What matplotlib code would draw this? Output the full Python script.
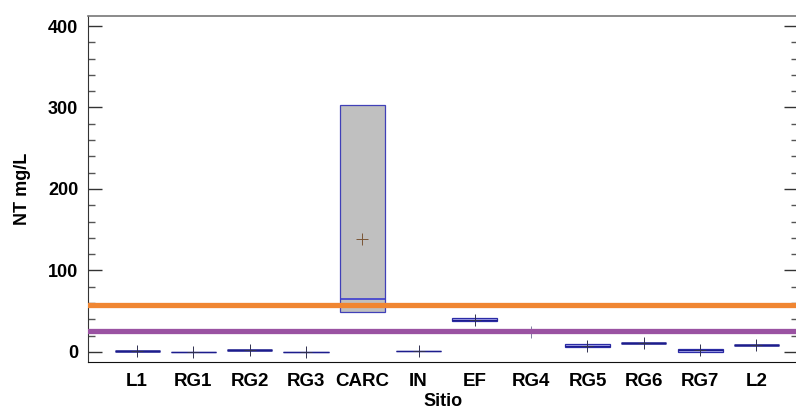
import matplotlib.pyplot as plt
from matplotlib.ticker import MultipleLocator

plt.rcParams['font.family'] = ['Liberation Sans', 'DejaVu Sans']
plt.rcParams['font.weight'] = 'bold'

# NT (mg/L) por sitio: cuartiles, mediana y media
sitios = ['L1', 'RG1', 'RG2', 'RG3', 'CARC', 'IN', 'EF', 'RG4', 'RG5', 'RG6', 'RG7', 'L2']
q1 = [0.8, 0.5, 1.8, 0.3, 48.7, 1.5, 37.7, 25.0, 5.8, 10.6, 0.4, 8.5]
mediana = [1.0, 0.5, 2.0, 0.3, 65.4, 1.5, 39.5, 25.0, 7.4, 10.7, 2.5, 8.6]
q3 = [1.2, 0.5, 2.2, 0.3, 302.7, 1.5, 41.3, 25.0, 9.4, 10.8, 4.0, 8.7]
media = [1.0, 0.5, 2.0, 0.3, 139.0, 1.5, 39.0, 24.0, 7.4, 11.0, 2.5, 8.6]

# limites de referencia
limite_1 = 58
limite_2 = 26

# grosor de la linea de mediana por sitio
grosor_med = [1.8, 1.0, 1.8, 1.0, 1.2, 1.0, 0.8, 1.0, 0.8, 1.8, 0.8, 1.8]

fig = plt.figure(figsize=(7.96, 4.09), dpi=100)
ax = fig.add_axes([0.1106, 0.115, 0.8919, 0.8459])

stats = []
for i, s in enumerate(sitios):
    stats.append({'label': s, 'q1': q1[i], 'med': mediana[i], 'q3': q3[i],
                  'whislo': q1[i], 'whishi': q3[i], 'mean': media[i]})

bp = ax.bxp(stats, positions=range(1, len(sitios) + 1), widths=0.8,
            showcaps=False, showfliers=False, showmeans=True,
            patch_artist=True,
            boxprops=dict(facecolor='#a9a9ec', edgecolor='#2b2ba6', linewidth=0.9),
            medianprops=dict(color='#1c1c8c', linewidth=0.8),
            whiskerprops=dict(linewidth=0),
            meanprops=dict(marker='+', markeredgecolor='#303050', markersize=8,
                           markeredgewidth=0.7))

for med, lw in zip(bp['medians'], grosor_med):
    med.set_linewidth(lw)

# caja de CARC en gris
bp['boxes'][4].set_facecolor('#c0c0c0')
bp['boxes'][4].set_edgecolor('#4040b8')
bp['medians'][4].set_color('#3c3cd0')
bp['means'][4].set_markeredgecolor('#7a5535')
bp['means'][7].set_markeredgecolor('#8080a0')

ax.axhline(limite_1, color='#f08632', linewidth=3.8, zorder=5)
ax.axhline(limite_2, color='#9a52a2', linewidth=3.8, zorder=5)

ax.set_xlim(0.128, 12.74)
ax.set_ylim(-12.3, 412.3)
ax.yaxis.set_major_locator(MultipleLocator(100))
ax.yaxis.set_minor_locator(MultipleLocator(20))
ax.tick_params(axis='y', which='major', direction='in', length=10, width=1,
               right=True, labelsize=13, pad=7, color='#333333')
ax.tick_params(axis='y', which='minor', direction='in', length=5, width=1,
               right=True, color='#555555')
ax.tick_params(axis='x', length=0, labelsize=13.5, pad=8)

ax.spines['top'].set_color('#777777')
ax.spines['top'].set_linewidth(1.2)
ax.spines['left'].set_color('#333333')
ax.spines['bottom'].set_color('#111111')

ax.set_ylabel('NT mg/L', fontsize=13, fontweight='bold', labelpad=12)
ax.set_xlabel('Sitio', fontsize=13, fontweight='bold', labelpad=2)

fig.savefig('out.png', dpi=100)
